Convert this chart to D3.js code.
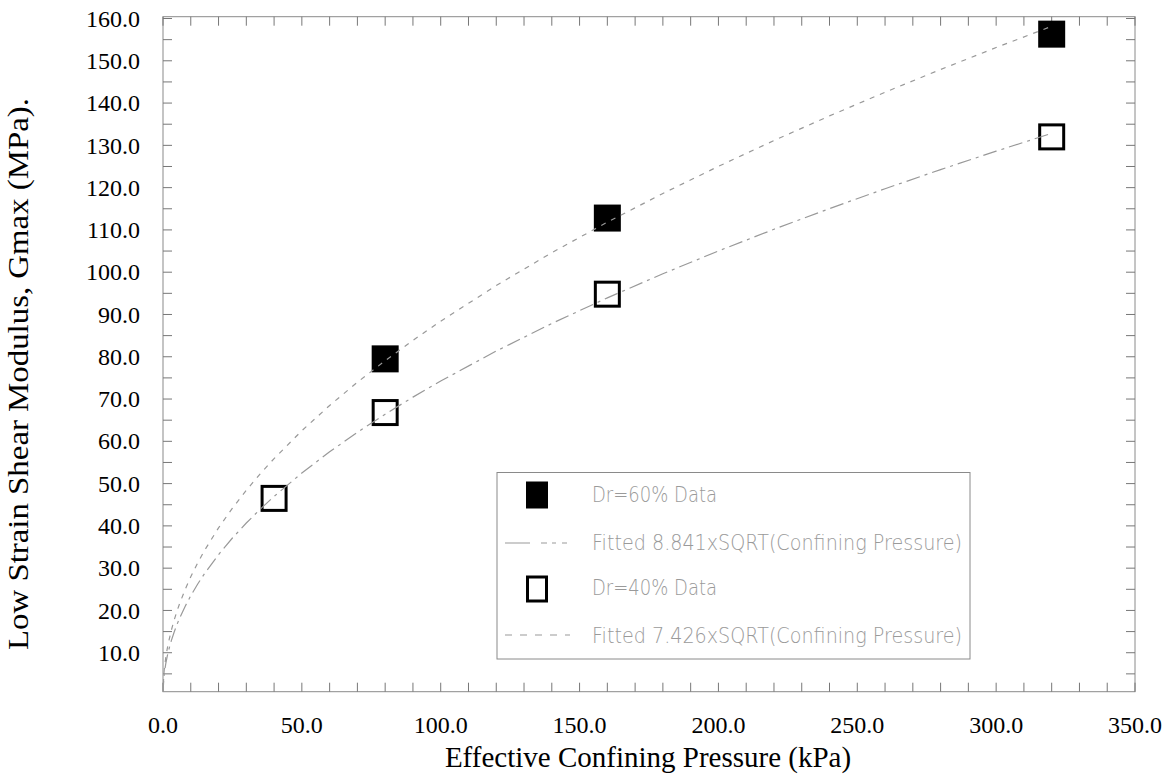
<!DOCTYPE html>
<html>
<head>
<meta charset="utf-8">
<script src="https://cdn.jsdelivr.net/npm/d3@7"></script>
<style>
  html, body { margin: 0; padding: 0; background: #fff; }
  svg { display: block; }
</style>
</head>
<body>
<svg id="chart" width="1176" height="777"></svg>
<script>
// Measured shear modulus (MPa) at each effective confining pressure (kPa)
const pressureDr60 = [80, 160, 320];
const gmaxDr60 = [79.5, 112.8, 156.3];
const pressureDr40 = [40, 80, 160, 320];
const gmaxDr40 = [46.5, 66.8, 94.8, 132.0];

// Fitted curves: Gmax = k * sqrt(pressure)
const fitCoefDr60 = 8.841;
const fitCoefDr40 = 7.426;
const fitPressures = [0, 0.25, 0.5, 1, 1.5, 2, 3, 4, 5, 6, 8, 10, 12.5, 15, 20, 25, 30, 35, 40, 50, 60, 70, 80,
  90, 100, 120, 140, 160, 180, 200, 220, 240, 260, 280, 300, 320];

// Axis tick labels
const xTickLabels = ["0.0", "50.0", "100.0", "150.0", "200.0", "250.0", "300.0", "350.0"];
const yTickLabels = ["10.0", "20.0", "30.0", "40.0", "50.0", "60.0", "70.0", "80.0", "90.0", "100.0",
  "110.0", "120.0", "130.0", "140.0", "150.0", "160.0"];

// Legend entries
const legendLabels = ["Dr=60% Data", "Fitted 8.841xSQRT(Confining Pressure)", "Dr=40% Data", "Fitted 7.426xSQRT(Confining Pressure)"];

const svg = d3.select("#chart");
const frame = { left: 163, right: 1135, top: 16.7, bottom: 691.7 };

const x = d3.scaleLinear().domain([0, 350]).range([163, 1135]);
const y = d3.scaleLinear().domain([0, 160]).range([695, 18.5]);

const serif = "'Liberation Serif', 'Times New Roman', serif";

// Clip region for the plotted curves
svg.append("defs").append("clipPath").attr("id", "plotClip")
  .append("rect")
  .attr("x", frame.left).attr("y", frame.top)
  .attr("width", frame.right - frame.left).attr("height", frame.bottom - frame.top);

// Plot frame
svg.append("rect")
  .attr("x", frame.left).attr("y", frame.top)
  .attr("width", frame.right - frame.left).attr("height", frame.bottom - frame.top)
  .attr("fill", "none").attr("stroke", "#8a8a8a").attr("stroke-width", 1);

// Inward tick marks on all four sides
const tickLen = 9;
const xMinor = d3.range(0, 351, 10);
const yMinor = d3.range(5, 161, 5);
const ticks = svg.append("g").attr("stroke", "#777").attr("stroke-width", 1);
ticks.selectAll(".tb").data(xMinor).join("line")
  .attr("x1", d => x(d)).attr("x2", d => x(d))
  .attr("y1", frame.bottom).attr("y2", frame.bottom - tickLen);
ticks.selectAll(".tt").data(xMinor).join("line")
  .attr("x1", d => x(d)).attr("x2", d => x(d))
  .attr("y1", frame.top).attr("y2", frame.top + tickLen);
ticks.selectAll(".tl").data(yMinor).join("line")
  .attr("x1", frame.left).attr("x2", frame.left + tickLen)
  .attr("y1", d => y(d)).attr("y2", d => y(d));
ticks.selectAll(".tr").data(yMinor).join("line")
  .attr("x1", frame.right).attr("x2", frame.right - tickLen)
  .attr("y1", d => y(d)).attr("y2", d => y(d));

// Tick labels
svg.append("g").selectAll("text").data(xTickLabels).join("text")
  .attr("x", d => x(+d)).attr("y", 733)
  .attr("text-anchor", "middle")
  .attr("font-family", serif).attr("font-size", 24).attr("fill", "#000")
  .text(d => d);

svg.append("g").selectAll("text").data(yTickLabels).join("text")
  .attr("x", 140).attr("y", d => y(+d))
  .attr("dy", "0.34em")
  .attr("text-anchor", "end")
  .attr("font-family", serif).attr("font-size", 24).attr("fill", "#000")
  .text(d => d);

// Axis titles
svg.append("text")
  .attr("x", 648).attr("y", 767)
  .attr("text-anchor", "middle")
  .attr("font-family", serif).attr("font-size", 29).attr("fill", "#000")
  .text("Effective Confining Pressure (kPa)");

svg.append("text")
  .attr("transform", "translate(28,374) rotate(-90)")
  .attr("text-anchor", "middle")
  .attr("textLength", 552)
  .attr("lengthAdjust", "spacingAndGlyphs")
  .attr("font-family", serif).attr("font-size", 30).attr("fill", "#000")
  .text("Low Strain Shear Modulus, Gmax (MPa).");

// Data markers
const sq = 27;
const dr60 = pressureDr60.map((p, i) => [p, gmaxDr60[i]]);
const dr40 = pressureDr40.map((p, i) => [p, gmaxDr40[i]]);

svg.append("g").selectAll("rect").data(dr60).join("rect")
  .attr("x", d => x(d[0]) - sq / 2).attr("y", d => y(d[1]) - sq / 2)
  .attr("width", sq).attr("height", sq)
  .attr("fill", "#000");

svg.append("g").selectAll("rect").data(dr40).join("rect")
  .attr("x", d => x(d[0]) - sq / 2 + 1.5).attr("y", d => y(d[1]) - sq / 2 + 1.5)
  .attr("width", sq - 3).attr("height", sq - 3)
  .attr("fill", "none").attr("stroke", "#000").attr("stroke-width", 3);

// Fitted curves
const line = d3.line().x(d => x(d[0])).y(d => y(d[1]));
const fit60 = fitPressures.map(p => [p, fitCoefDr60 * Math.sqrt(p)]);
const fit40 = fitPressures.map(p => [p, fitCoefDr40 * Math.sqrt(p)]);
const curves = svg.append("g").attr("clip-path", "url(#plotClip)");
curves.append("path").datum(fit60).attr("d", line)
  .attr("fill", "none").attr("stroke", "#999").attr("stroke-width", 1.2)
  .attr("stroke-dasharray", "5,6");
curves.append("path").datum(fit40).attr("d", line)
  .attr("fill", "none").attr("stroke", "#999").attr("stroke-width", 1.2)
  .attr("stroke-dasharray", "14,5,3,5");

// Legend
const lg = svg.append("g");
lg.append("rect")
  .attr("x", 497).attr("y", 472.5).attr("width", 473).attr("height", 186.5)
  .attr("fill", "#fff").attr("stroke", "#8a8a8a").attr("stroke-width", 1);

const rowY = [495, 543, 589, 635];
const textBase = [502, 550, 595, 643];
const textWidth = [125, 370, 125, 370];

lg.append("rect").attr("x", 526).attr("y", rowY[0] - 13.5).attr("width", 22).attr("height", 27).attr("fill", "#000");
lg.append("path").attr("d", `M505,${rowY[1]}H570`)
  .attr("stroke", "#999").attr("stroke-width", 1.2).attr("stroke-dasharray", "25,11,6,5,4,6,5");
lg.append("rect").attr("x", 527.5).attr("y", rowY[2] - 12).attr("width", 19).attr("height", 24)
  .attr("fill", "none").attr("stroke", "#000").attr("stroke-width", 3);
lg.append("path").attr("d", `M505,${rowY[3]}H570`)
  .attr("stroke", "#999").attr("stroke-width", 1.2).attr("stroke-dasharray", "7,8");

lg.selectAll("text.lbl").data(legendLabels).join("text")
  .attr("class", "lbl")
  .attr("x", 592).attr("y", (d, i) => textBase[i])
  .attr("textLength", (d, i) => textWidth[i])
  .attr("lengthAdjust", "spacingAndGlyphs")
  .attr("font-family", "'DejaVu Sans', sans-serif").attr("font-weight", 200)
  .attr("font-size", 22).attr("fill", "#9a9a9a")
  .text(d => d);
</script>
</body>
</html>
